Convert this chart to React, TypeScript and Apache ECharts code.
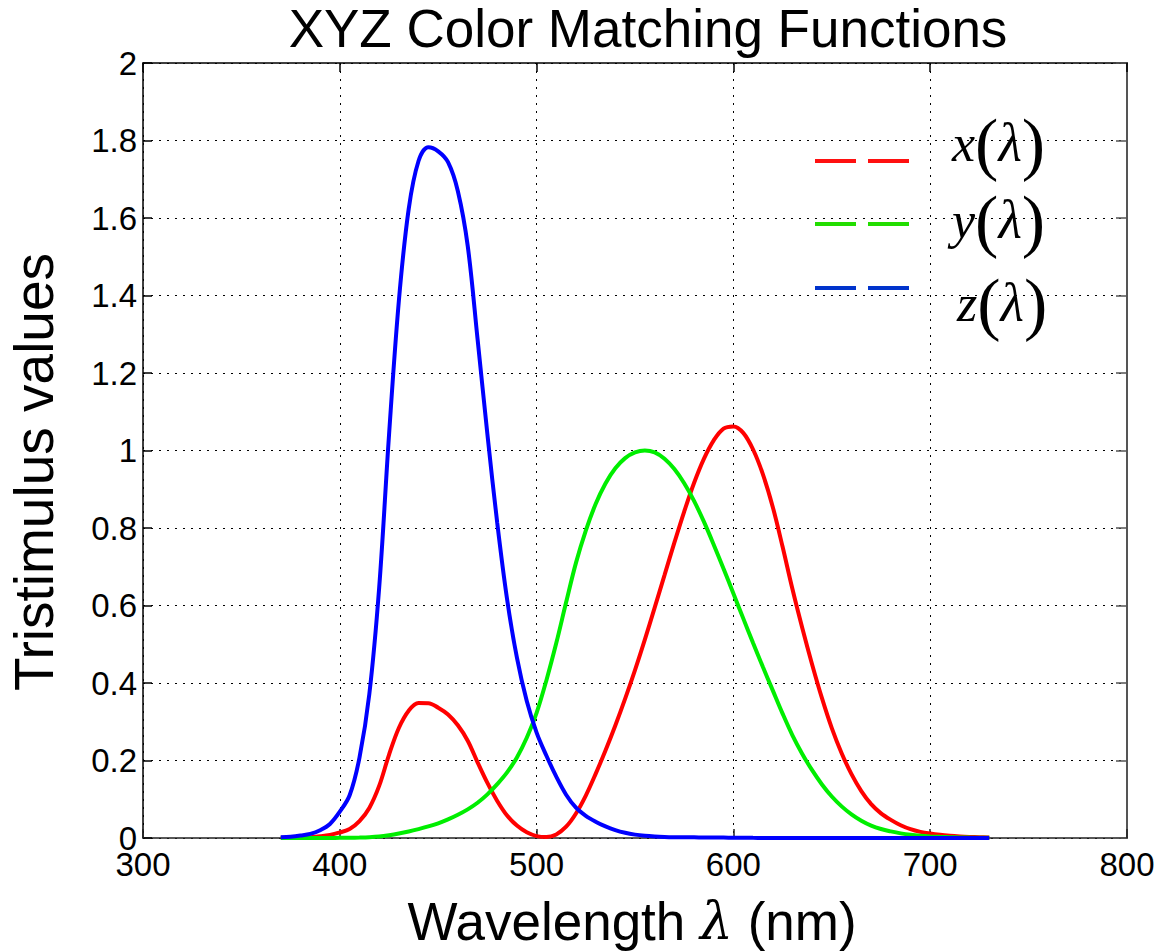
import React, { useEffect, useRef } from "react";
import * as echarts from "echarts";

// CIE 1931 colour matching functions, as drawn (370–730 nm, 5 nm step)
const wavelengths = [
  370, 375, 380, 385, 390, 395, 400, 405, 410, 415, 420, 425, 430, 435, 440, 445,
  450, 455, 460, 465, 470, 475, 480, 485, 490, 495, 500, 505, 510, 515, 520, 525,
  530, 535, 540, 545, 550, 555, 560, 565, 570, 575, 580, 585, 590, 595, 600, 605,
  610, 615, 620, 625, 630, 635, 640, 645, 650, 655, 660, 665, 670, 675, 680, 685,
  690, 695, 700, 705, 710, 715, 720, 725, 730,
];

const xBar = [
  0.000415, 0.000742, 0.001368, 0.002236, 0.004243, 0.00765, 0.01431, 0.02319,
  0.04351, 0.07763, 0.13438, 0.21477, 0.2839, 0.3285, 0.34828, 0.34806,
  0.3362, 0.3187, 0.2908, 0.2511, 0.19536, 0.1421, 0.09564, 0.05795,
  0.03201, 0.0147, 0.0049, 0.0024, 0.0093, 0.0291, 0.06327, 0.1096,
  0.1655, 0.22575, 0.2904, 0.3597, 0.43345, 0.51205, 0.5945, 0.6784,
  0.7621, 0.8425, 0.9163, 0.9786, 1.0263, 1.0567, 1.0622, 1.0456,
  1.0026, 0.9384, 0.85445, 0.7514, 0.6424, 0.5419, 0.4479, 0.3608,
  0.2835, 0.2187, 0.1649, 0.1212, 0.0874, 0.0636, 0.04677, 0.0329,
  0.0227, 0.01584, 0.011359, 0.008111, 0.00579, 0.004109, 0.002899, 0.002049,
  0.00144,
];

const yBar = [
  0.000012, 0.000022, 0.000039, 0.000064, 0.00012, 0.000217, 0.000396, 0.00064,
  0.00121, 0.00218, 0.004, 0.0073, 0.0116, 0.01684, 0.023, 0.0298,
  0.038, 0.048, 0.06, 0.0739, 0.09098, 0.1126, 0.13902, 0.1693,
  0.20802, 0.2586, 0.323, 0.4073, 0.503, 0.6082, 0.71, 0.7932,
  0.862, 0.91485, 0.954, 0.9803, 0.99495, 1.0, 0.995, 0.9786,
  0.952, 0.9154, 0.87, 0.8163, 0.757, 0.6949, 0.631, 0.5668,
  0.503, 0.4412, 0.381, 0.321, 0.265, 0.217, 0.175, 0.1382,
  0.107, 0.0816, 0.061, 0.04458, 0.032, 0.0232, 0.017, 0.01192,
  0.00821, 0.005723, 0.004102, 0.002929, 0.002091, 0.001484, 0.001047, 0.00074,
  0.00052,
];

const zBar = [
  0.001946, 0.003486, 0.00645, 0.01055, 0.02005, 0.03621, 0.06785, 0.1102,
  0.2074, 0.3713, 0.6456, 1.03905, 1.3856, 1.62296, 1.74706, 1.7826,
  1.77211, 1.7441, 1.6692, 1.5281, 1.28764, 1.0419, 0.81295, 0.6162,
  0.46518, 0.3533, 0.272, 0.2123, 0.1582, 0.1117, 0.07825, 0.05725,
  0.04216, 0.02984, 0.0203, 0.0134, 0.00875, 0.00575, 0.0039, 0.00275,
  0.0021, 0.0018, 0.00165, 0.0014, 0.0011, 0.001, 0.0008, 0.0006,
  0.00034, 0.00024, 0.00019, 0.0001, 0.00005, 0.00003, 0.00002, 0.00001,
  0, 0, 0, 0, 0, 0, 0, 0,
  0, 0, 0, 0, 0, 0, 0, 0,
  0,
];

const seriesNames = ["x(λ)", "y(λ)", "z(λ)"];
const seriesLetters = ["x", "y", "z"];
const lineColors = ["#ff0000", "#00ee00", "#0000ff"];
const legendColors = ["#ff1010", "#22dd00", "#0033cc"];

const titleText = "XYZ Color Matching Functions";
const yAxisTitle = "Tristimulus values";

const SANS = "'Liberation Sans', Arial, Helvetica, sans-serif";
const SERIF = "'Liberation Serif', 'Times New Roman', serif";

export default function App() {
  const ref = useRef<HTMLDivElement>(null);

  useEffect(() => {
    if (!ref.current) return;
    const chart = echarts.init(ref.current, undefined, { renderer: "svg" });

    const grid = { left: 143, top: 63, right: 35, bottom: 113 };
    const axisLineStyle = { color: "#222", width: 1.5 };
    const gridLine = { show: true, lineStyle: { color: "#000", width: 1, type: [2, 6] as any } };

    const dataSets = [xBar, yBar, zBar];
    const series = dataSets.map((arr, k) => ({
      name: seriesNames[k],
      type: "line" as const,
      data: wavelengths.map((w, i) => [w, arr[i]]),
      showSymbol: false,
      smooth: 0.35,
      lineStyle: { color: lineColors[k], width: 4 },
      itemStyle: { color: lineColors[k] },
      z: 3 + k,
    }));

    const legendYs = [161, 224, 288];
    const labelYs = [143, 220, 303];
    const legendGraphics: any[] = [];
    legendYs.forEach((y, k) => {
      legendGraphics.push({
        type: "line",
        shape: { x1: 815, y1: y, x2: 856, y2: y },
        style: { stroke: legendColors[k], lineWidth: 4 },
        z: 10,
      });
      legendGraphics.push({
        type: "line",
        shape: { x1: 868, y1: y, x2: 909, y2: y },
        style: { stroke: legendColors[k], lineWidth: 4 },
        z: 10,
      });
      legendGraphics.push({
        type: "text",
        x: k === 2 ? 957 : 952,
        y: labelYs[k],
        z: 10,
        style: {
          text: `{v|${seriesLetters[k]}}{p|(}{l|λ}{p|)}`,
          align: "left",
          verticalAlign: "middle",
          textAlign: "left",
          textVerticalAlign: "middle",
          fill: "#000",
          rich: {
            v: { fontFamily: SERIF, fontStyle: "italic", fontSize: 52, fill: "#000", color: "#000", verticalAlign: "middle", lineHeight: 66 },
            p: { fontFamily: SERIF, fontSize: 70, fill: "#000", color: "#000", verticalAlign: "middle", lineHeight: 66 },
            l: { fontFamily: SERIF, fontStyle: "italic", fontSize: 54, fill: "#000", color: "#000", verticalAlign: "middle", lineHeight: 66 },
          },
        },
      });
    });

    chart.setOption({
      animation: false,
      backgroundColor: "#fff",
      grid: { ...grid, containLabel: false },
      xAxis: [
        {
          type: "value",
          min: 300,
          max: 800,
          interval: 100,
          position: "bottom",
          axisLine: { show: true, onZero: false, lineStyle: axisLineStyle },
          axisTick: { show: true, inside: true, length: 9, lineStyle: axisLineStyle },
          axisLabel: { show: true, fontSize: 33, color: "#000", fontFamily: SANS, margin: 10 },
          splitLine: gridLine,
        },
        {
          type: "value",
          min: 300,
          max: 800,
          interval: 100,
          position: "top",
          axisLine: { show: true, onZero: false, lineStyle: { color: "#000", width: 1.5 } },
          axisTick: { show: true, inside: true, length: 9, lineStyle: { color: "#000", width: 1.5 } },
          axisLabel: { show: false },
          splitLine: { show: false },
        },
      ],
      yAxis: [
        {
          type: "value",
          min: 0,
          max: 2,
          interval: 0.2,
          position: "left",
          axisLine: { show: true, onZero: false, lineStyle: { color: "#000", width: 1.5 } },
          axisTick: { show: true, inside: true, length: 9, lineStyle: { color: "#000", width: 1.5 } },
          axisLabel: { show: true, fontSize: 33, color: "#000", fontFamily: SANS, margin: 6 },
          splitLine: gridLine,
        },
        {
          type: "value",
          min: 0,
          max: 2,
          interval: 0.2,
          position: "right",
          axisLine: { show: true, onZero: false, lineStyle: { color: "#555", width: 2 } },
          axisTick: { show: true, inside: true, length: 11, lineStyle: { color: "#555", width: 1.5 } },
          axisLabel: { show: false },
          splitLine: { show: false },
        },
      ],
      series,
      graphic: [
        {
          type: "text",
          x: 648,
          y: 28,
          style: {
            text: titleText,
            fontSize: 53,
            fontFamily: SANS,
            fill: "#000",
            align: "center",
            verticalAlign: "middle",
            textAlign: "center",
            textVerticalAlign: "middle",
          },
        },
        {
          type: "text",
          x: 34,
          y: 472,
          rotation: Math.PI / 2,
          style: {
            text: yAxisTitle,
            fontSize: 55,
            fontFamily: SANS,
            fill: "#000",
            align: "center",
            verticalAlign: "middle",
            textAlign: "center",
            textVerticalAlign: "middle",
          },
        },
        {
          type: "text",
          x: 632,
          y: 921,
          style: {
            text: "{a|Wavelength }{l|λ}{a| (nm)}",
            fill: "#000",
            align: "center",
            verticalAlign: "middle",
            textAlign: "center",
            textVerticalAlign: "middle",
            rich: {
              a: { fontFamily: SANS, fontSize: 53, fill: "#000", color: "#000", verticalAlign: "middle", lineHeight: 60 },
              l: { fontFamily: "'DejaVu Serif', serif", fontStyle: "italic", fontSize: 52, fill: "#000", color: "#000", verticalAlign: "middle", lineHeight: 60 },
            },
          },
        },
        ...legendGraphics,
      ],
    });

    return () => {
      chart.dispose();
    };
  }, []);

  return (
    <div
      ref={ref}
      style={{ position: "fixed", left: 0, top: 0, width: 1162, height: 951, background: "#fff" }}
    />
  );
}
